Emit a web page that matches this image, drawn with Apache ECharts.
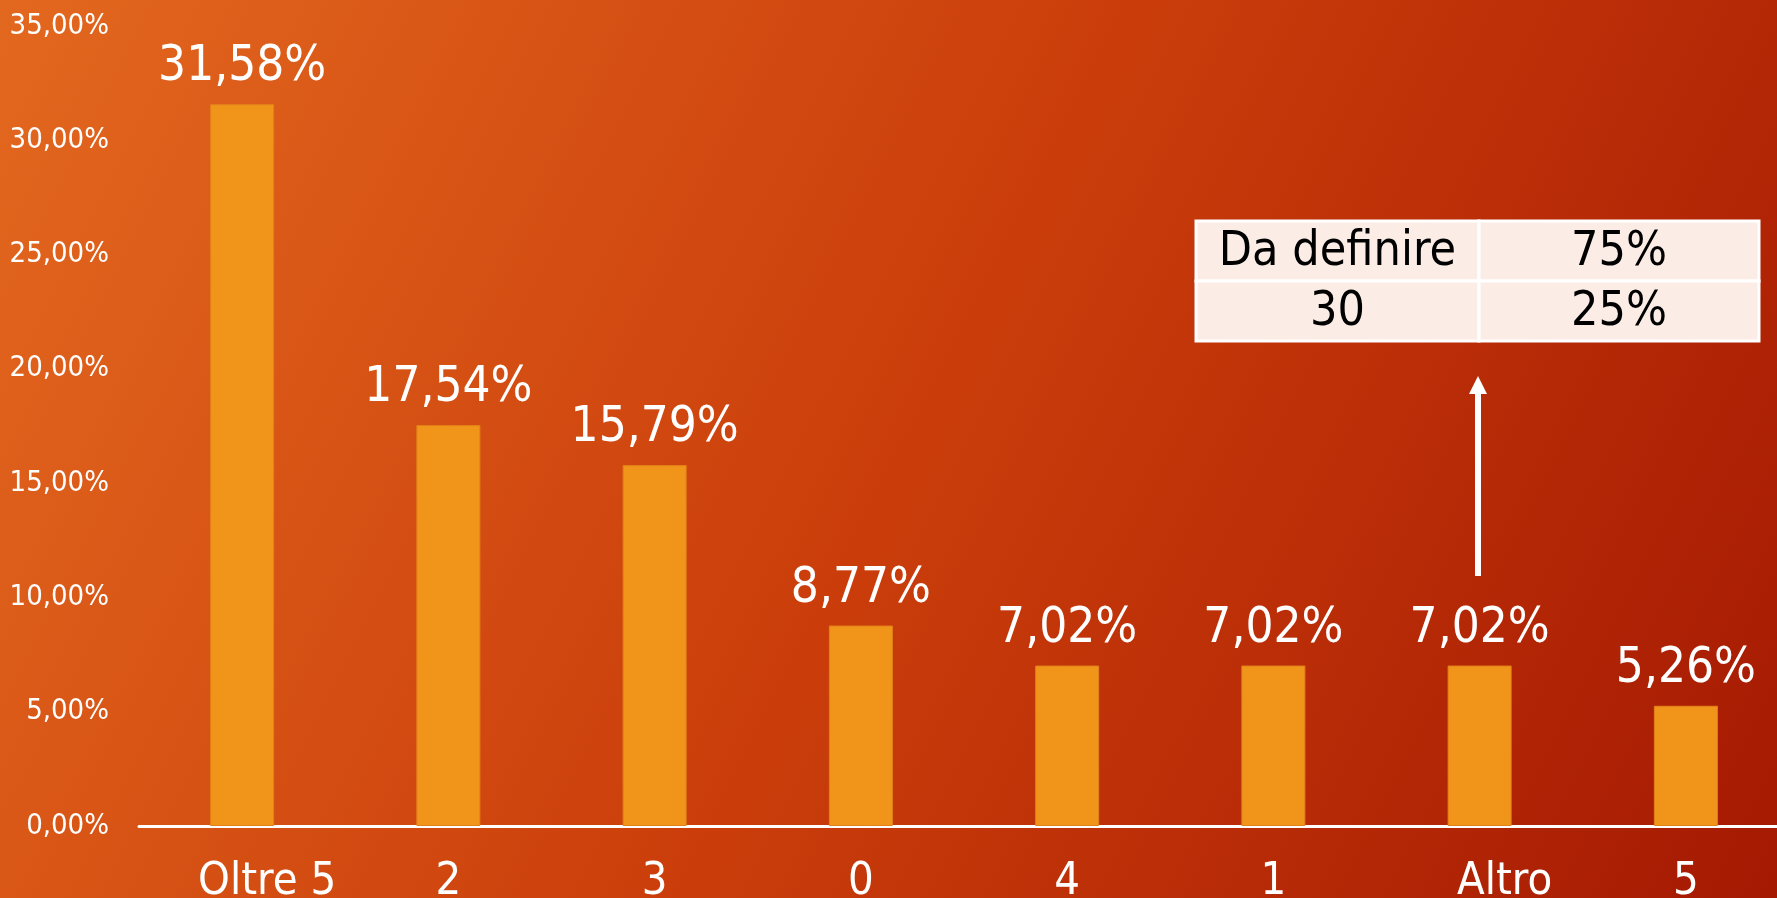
<!DOCTYPE html>
<html>
<head>
<meta charset="utf-8">
<title>Chart</title>
<script src="https://cdn.jsdelivr.net/npm/echarts@6/dist/echarts.min.js"></script>
<style>
  html, body { margin: 0; padding: 0; }
  #chart { width: 1777px; height: 898px; }
</style>
</head>
<body>
<div id="chart"></div>
<script>
  // dati
  const categories = ['Oltre 5', '2', '3', '0', '4', '1', 'Altro', '5'];
  const percentuali = [31.58, 17.54, 15.79, 8.77, 7.02, 7.02, 7.02, 5.26];
  const tableRows = [
    ['Da definire', '75%'],
    ['30', '25%']
  ];

  const FONT = '"Liberation Sans Narrow", "DejaVu Sans Condensed", sans-serif';
  const fmt = v => v.toFixed(2).replace('.', ',') + '%';

  // tabella in alto a destra
  const tabX = 1196, tabY = 221, colW = [283, 280], rowH = 60;
  let tableEls = [];
  tableRows.forEach((row, r) => {
    let x = tabX;
    row.forEach((cell, c) => {
      tableEls.push({
        type: 'rect',
        shape: { x: x, y: tabY + r * rowH, width: colW[c], height: rowH },
        style: { fill: '#fbede6', stroke: '#ffffff', lineWidth: 3 }
      });
      tableEls.push({
        type: 'text',
        x: x + colW[c] / 2,
        y: tabY + r * rowH + rowH / 2 + 2,
        style: {
          text: cell, fill: '#000000', font: '48px ' + FONT,
          align: 'center', verticalAlign: 'middle'
        }
      });
      x += colW[c];
    });
  });

  let myChart = echarts.init(document.getElementById('chart'));
  let option = {
    backgroundColor: {
      type: 'linear', x: 0, y: 0, x2: 1, y2: 1,
      colorStops: [
        { offset: 0, color: '#e3681f' },
        { offset: 0.5, color: '#cb3e0b' },
        { offset: 1, color: '#a51903' }
      ]
    },
    animation: false,
    grid: { left: 139, top: 26, width: 1650, height: 800, outerBoundsMode: 'none', containLabel: false },
    xAxis: {
      type: 'category',
      data: categories,
      axisTick: { show: false },
      axisLine: { lineStyle: { color: '#ffffff', width: 3 } },
      axisLabel: {
        interval: 0,
        color: '#ffffff',
        fontFamily: FONT,
        fontSize: 45,
        margin: 34,
        // le etichette lunghe sono un po' spostate a destra
        formatter: v => v.length > 1 ? '{s|' + v + '}' : v,
        rich: {
          s: { fontFamily: FONT, fontSize: 45, color: '#ffffff', padding: [0, 0, 0, 50] }
        }
      }
    },
    yAxis: {
      type: 'value',
      min: 0,
      max: 35,
      interval: 5,
      axisLine: { show: false },
      axisTick: { show: false },
      splitLine: { show: false },
      axisLabel: {
        color: '#ffffff',
        fontFamily: FONT,
        fontSize: 29,
        margin: 30,
        formatter: fmt
      }
    },
    series: [
      {
        type: 'bar',
        data: percentuali,
        barWidth: 64,
        itemStyle: { color: '#f0941a', borderColor: '#e2821a', borderWidth: 1 },
        label: {
          show: true,
          position: 'top',
          distance: 12,
          color: '#ffffff',
          fontFamily: FONT,
          fontSize: 49,
          formatter: p => fmt(p.value)
        }
      }
    ],
    graphic: [
      { type: 'group', children: tableEls },
      // freccia verso la tabella
      {
        type: 'line',
        shape: { x1: 1478, y1: 576, x2: 1478, y2: 392 },
        style: { stroke: '#ffffff', lineWidth: 6 }
      },
      {
        type: 'polygon',
        shape: { points: [[1478, 376], [1469, 394], [1487, 394]] },
        style: { fill: '#ffffff' }
      }
    ]
  };
  myChart.setOption(option);
  window.addEventListener('resize', function () { myChart.resize() });
</script>
</body>
</html>
